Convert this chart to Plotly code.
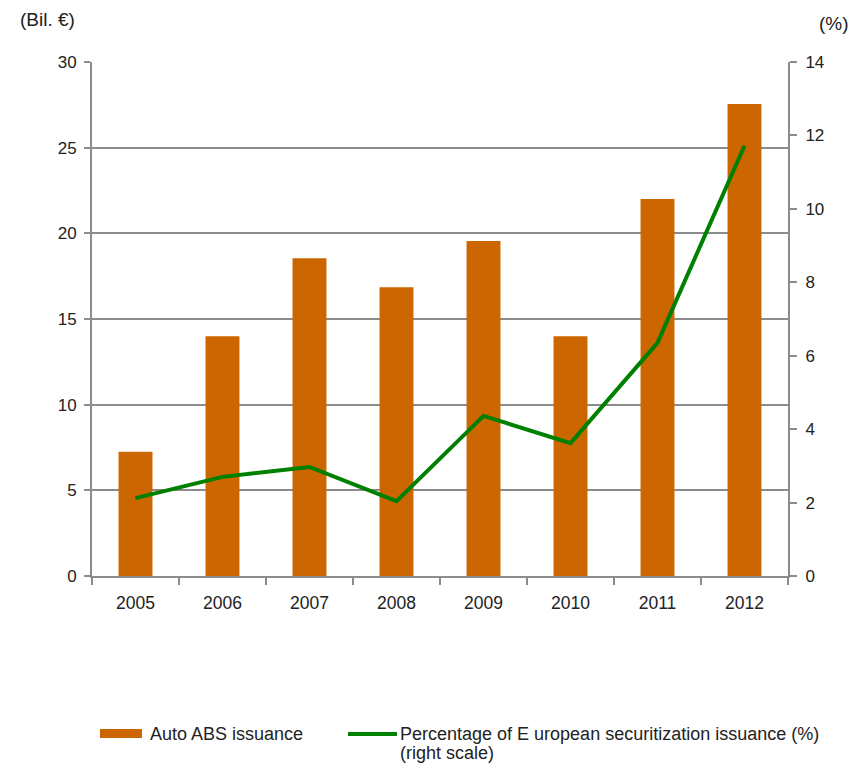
import plotly.graph_objects as go

years = ["2005", "2006", "2007", "2008", "2009", "2010", "2011", "2012"]
auto_abs = [7.25, 14.0, 18.55, 16.85, 19.55, 14.0, 22.0, 27.55]
pct_euro = [2.12, 2.7, 2.97, 2.04, 4.36, 3.62, 6.35, 11.72]

bar_name = "Auto ABS issuance"
line_name_1 = "Percentage of E uropean securitization issuance (%)"
line_name_2 = "(right scale)"

FONT = "Liberation Sans, Arial, sans-serif"
AX = "#8c8c8c"
BAR_C = "#CC6600"
LINE_C = "#008000"

fig = go.Figure()
fig.add_trace(go.Bar(x=years, y=auto_abs, name=bar_name,
                     marker=dict(color=BAR_C, line=dict(width=0)),
                     width=0.39))
fig.add_trace(go.Scatter(x=years, y=pct_euro, yaxis="y2", mode="lines",
                         name=line_name_1 + " " + line_name_2,
                         line=dict(color=LINE_C, width=4)))

# page body has an 8px margin in the browser, so size the figure to fit
fig.update_layout(
    width=853, height=757,
    margin=dict(l=84, r=73, t=54, b=189, autoexpand=False),
    paper_bgcolor="white", plot_bgcolor="white",
    font=dict(family=FONT, size=16, color="#222222"),
    showlegend=False,
    xaxis=dict(type="category", showline=True, linecolor=AX, linewidth=2,
               ticks="outside", tickson="boundaries", ticklen=7, tickcolor=AX,
               tickwidth=2, showgrid=False, ticklabelstandoff=10,
               tickfont=dict(size=17.5)),
    yaxis=dict(range=[0, 30], dtick=5, showline=True, linecolor=AX, linewidth=2,
               ticks="outside", ticklen=6, tickcolor=AX, tickwidth=2,
               showgrid=True, gridcolor=AX, gridwidth=1.5, zeroline=False,
               ticklabelstandoff=4, tickfont=dict(size=17)),
    yaxis2=dict(range=[0, 14], dtick=2, overlaying="y", side="right",
                showline=True, linecolor=AX, linewidth=2,
                ticks="outside", ticklen=7, tickcolor=AX, tickwidth=2,
                showgrid=False, zeroline=False, ticklabelstandoff=5,
                tickfont=dict(size=17)),
)

# axis unit labels
fig.add_annotation(text="(Bil. €)", x=-0.106, y=1.082, xref="paper", yref="paper",
                   xanchor="left", yanchor="middle", showarrow=False, font=dict(size=19))
fig.add_annotation(text="(%)", x=1.042, y=1.074, xref="paper", yref="paper",
                   xanchor="left", yanchor="middle", showarrow=False, font=dict(size=19))

# legend drawn manually (wide swatches like the reference)
fig.add_shape(type="rect", xref="paper", yref="paper",
              x0=0.0115, x1=0.0718, y0=-0.315, y1=-0.2977,
              fillcolor=BAR_C, line=dict(width=0))
fig.add_annotation(text=bar_name, x=0.0805, y=-0.3074, xref="paper", yref="paper",
                   xanchor="left", yanchor="middle", showarrow=False, font=dict(size=18))
fig.add_shape(type="line", xref="paper", yref="paper",
              x0=0.3678, x1=0.4382, y0=-0.3074, y1=-0.3074,
              line=dict(color=LINE_C, width=4))
fig.add_annotation(text=line_name_1, x=0.4397, y=-0.3074, xref="paper", yref="paper",
                   xanchor="left", yanchor="middle", showarrow=False,
                   font=dict(size=18))
fig.add_annotation(text=line_name_2, x=0.4397, y=-0.3445, xref="paper", yref="paper",
                   xanchor="left", yanchor="middle", showarrow=False,
                   font=dict(size=18))

fig.write_html("out.html")
